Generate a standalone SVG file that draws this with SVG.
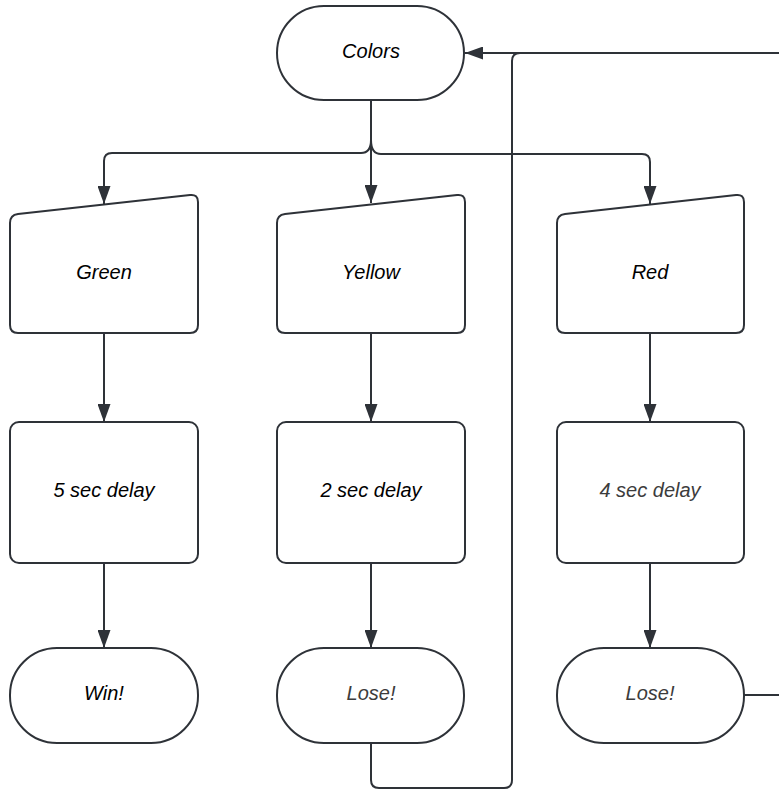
<svg xmlns="http://www.w3.org/2000/svg" width="779" height="791" viewBox="0 0 779 791">
  <style>
    .shape { fill: #ffffff; stroke: #2e3238; stroke-width: 2; }
    .wire { fill: none; stroke: #2e3238; stroke-width: 2; }
    .label { font-family: "Liberation Sans", Arial, sans-serif; font-size: 20px; font-style: italic; text-anchor: middle; fill: #000000; }
    .soft { fill: #3c3c3c; }
  </style>
  <defs>
    <marker id="arrow" viewBox="0 0 18 13" refX="18" refY="6.5" markerWidth="18" markerHeight="13" markerUnits="userSpaceOnUse" orient="auto">
      <path d="M0,0 L18,6.5 L0,13 Z" fill="#2e3238"/>
    </marker>
  </defs>
  <rect width="779" height="791" fill="#ffffff"/>

  <g id="connectors">
    <!-- fan-out from Colors -->
    <path class="wire" d="M371,100 V203" marker-end="url(#arrow)"/>
    <path class="wire" d="M371,140 Q371,153 361,153 H112 Q104,153 104,161 V204" marker-end="url(#arrow)"/>
    <path class="wire" d="M371,140 Q371,154 381,154 H642 Q650,154 650,162 V204" marker-end="url(#arrow)"/>
    <!-- columns -->
    <path class="wire" d="M104,333 V422" marker-end="url(#arrow)"/>
    <path class="wire" d="M371,333 V422" marker-end="url(#arrow)"/>
    <path class="wire" d="M650,333 V422" marker-end="url(#arrow)"/>
    <path class="wire" d="M104,563 V648" marker-end="url(#arrow)"/>
    <path class="wire" d="M371,563 V648" marker-end="url(#arrow)"/>
    <path class="wire" d="M650,563 V648" marker-end="url(#arrow)"/>
    <!-- loop back from Lose! (yellow) -->
    <path class="wire" d="M371,743 V780 Q371,788 379,788 H504 Q512,788 512,780 V61 Q512,53 520,53 H779"/>
    <!-- loop back from Lose! (red) -->
    <path class="wire" d="M744,695 H779"/>
    <path class="wire" d="M779,53 H465" marker-end="url(#arrow)"/>
  </g>

  <g id="colors">
    <rect class="shape" x="277" y="6" width="187" height="94" rx="47"/>
    <text class="label" x="371" y="58">Colors</text>
  </g>

  <g id="green">
    <path class="shape" d="M10,223 Q10,215 18,214 L190,195 Q198,194 198,202 V325 Q198,333 190,333 H18 Q10,333 10,325 Z"/>
    <text class="label" x="104" y="279">Green</text>
  </g>
  <g id="yellow">
    <path class="shape" d="M277,223 Q277,215 285,214 L457,195 Q465,194 465,202 V325 Q465,333 457,333 H285 Q277,333 277,325 Z"/>
    <text class="label" x="371" y="279">Yellow</text>
  </g>
  <g id="red">
    <path class="shape" d="M557,223 Q557,215 565,214 L736,195 Q744,194 744,202 V325 Q744,333 736,333 H565 Q557,333 557,325 Z"/>
    <text class="label" x="650" y="279">Red</text>
  </g>

  <g id="delay-5">
    <rect class="shape" x="10" y="422" width="188" height="141" rx="9"/>
    <text class="label" x="104" y="497">5 sec delay</text>
  </g>
  <g id="delay-2">
    <rect class="shape" x="277" y="422" width="188" height="141" rx="9"/>
    <text class="label" x="371" y="497">2 sec delay</text>
  </g>
  <g id="delay-4">
    <rect class="shape" x="557" y="422" width="187" height="141" rx="9"/>
    <text class="label soft" x="650" y="497">4 sec delay</text>
  </g>

  <g id="win">
    <rect class="shape" x="10" y="648" width="188" height="95" rx="47"/>
    <text class="label" x="104" y="700">Win!</text>
  </g>
  <g id="lose-yellow">
    <rect class="shape" x="277" y="648" width="187" height="95" rx="47"/>
    <text class="label soft" x="371" y="700">Lose!</text>
  </g>
  <g id="lose-red">
    <rect class="shape" x="557" y="648" width="187" height="95" rx="47"/>
    <text class="label soft" x="650" y="700">Lose!</text>
  </g>
</svg>
